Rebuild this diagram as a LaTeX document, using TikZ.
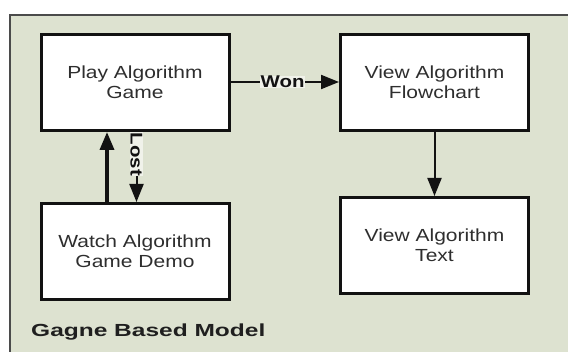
\documentclass[tikz,border=0pt]{standalone}
\usepackage{fontspec}
\setmainfont{Liberation Sans}
\newfontfamily\boxfont{Liberation Sans}[FakeStretch=1.2]
\newfontfamily\titlefont{Liberation Sans}[FakeStretch=1.4]
\usetikzlibrary{arrows.meta}
\definecolor{panelfill}{RGB}{221,226,208}
\definecolor{panelline}{RGB}{75,75,75}
\definecolor{ink}{RGB}{18,18,18}
\begin{document}
\begin{tikzpicture}[x=1pt,y=-1pt,
  stepbox/.style={draw=ink, line width=3pt, fill=white,
    minimum width=188pt, minimum height=96pt, inner sep=0pt,
    align=center, text=black!82,
    font=\boxfont\fontsize{17.5}{20}\selectfont},
  flow/.style={draw=ink, line width=2pt,
    -{Triangle[length=18pt,width=14pt]}},
  heavyflow/.style={draw=ink, line width=3.6pt,
    -{Triangle[length=18pt,width=14pt]}},
  edgelabel/.style={fill=white!55!panelfill, inner sep=0.5pt, text=ink,
    font=\boxfont\bfseries\fontsize{17}{18}\selectfont}
]
% canvas and the model panel
\useasboundingbox (0,0) rectangle (568,352);
\fill[white] (0,0) rectangle (568,352);
\fill[panelfill] (10,15) rectangle (580,360);
\draw[panelline, line width=1.4pt] (580,15) -- (10,15) -- (10,360);

% activity boxes
\node[stepbox] (play) at (135,82.5) {Play Algorithm\\Game};
\node[stepbox] (flow) at (434.5,82.5) {View Algorithm\\Flowchart};
\node[stepbox] (demo) at (135,251.5) {Watch Algorithm\\Game Demo};
\node[stepbox] (text) at (434.5,245.5) {View Algorithm\\Text};

% transitions
\draw[flow] (play.east |- 0,82) -- node[edgelabel, pos=0.48] {Won} (flow.west |- 0,82);
\draw[heavyflow] ([xshift=-28pt]demo.north) -- ([xshift=-28pt]play.south);
\draw[flow] ([xshift=1.5pt]play.south) -- node[edgelabel, pos=0.32, rotate=-90] {Lost} ([xshift=1.5pt]demo.north);
\draw[flow] (flow.south) -- (text.north);

% caption
\node[anchor=west, inner sep=0pt, text=black!88,
  font=\titlefont\bfseries\fontsize{17.5}{20}\selectfont] (caption) at (31,332) {Gagne Based Model};
\end{tikzpicture}
\end{document}
